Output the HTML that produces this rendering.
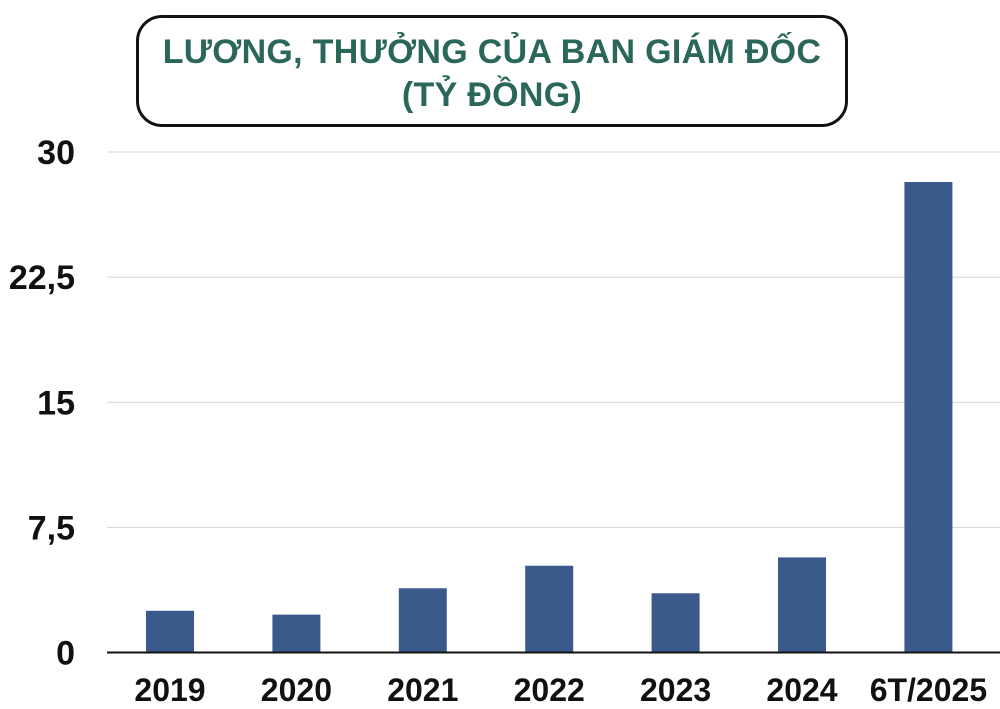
<!DOCTYPE html>
<html><head><meta charset="utf-8">
<style>
html,body{margin:0;padding:0;background:#fff;}
body{width:1000px;height:709px;position:relative;overflow:hidden;font-family:"Liberation Sans",sans-serif;}
#title-box{position:absolute;left:136px;top:15px;width:706px;height:106px;border:3px solid #111;border-radius:26px;box-sizing:content-box;text-align:center;color:#2a6659;font-weight:bold;font-size:34px;line-height:43px;}
#title-box div{margin-top:13px;letter-spacing:0.3px;}
</style></head>
<body>
<div id="title-box"><div>LƯƠNG, THƯỞNG CỦA BAN GIÁM ĐỐC<br>(TỶ ĐỒNG)</div></div>
<svg id="chart" width="1000" height="709" style="position:absolute;left:0;top:0"></svg>
<script>
const categories=["2019","2020","2021","2022","2023","2024","6T/2025"];
const values=[2.5,2.27,3.85,5.2,3.55,5.7,28.2];
const tickValues=[0,7.5,15,22.5,30];
const tickLabels=["0","7,5","15","22,5","30"];
const NS="http://www.w3.org/2000/svg";
const svg=document.getElementById("chart");
const y0=652.5,y1=152,yMax=30;
const yScale=v=>y0-(v/yMax)*(y0-y1);
const xLeft=107,band=126.4,firstCenter=170;
const xScale=i=>firstCenter+i*band;
const barW=48;
function mk(t,a){const e=document.createElementNS(NS,t);for(const k in a)e.setAttribute(k,a[k]);svg.appendChild(e);return e;}
tickValues.forEach((v,i)=>{
  const y=yScale(v);
  if(v!==0){const g=mk("line",{x1:xLeft,x2:1000,y1:y,y2:y,stroke:"#d4d4d4","stroke-width":1});
  
  }
  const t=mk("text",{x:75,y:y+12,"text-anchor":"end","font-size":34,"font-weight":"bold",fill:"#111","font-family":"Liberation Sans, sans-serif"});
  t.textContent=tickLabels[i];
  
  
});
values.forEach((v,i)=>{
  const cx=xScale(i);
  const r=mk("rect",{x:cx-barW/2,y:yScale(v),width:barW,height:y0-yScale(v),fill:"#3a5a8c"});
  
  
  const t=mk("text",{x:cx,y:701,"text-anchor":"middle","font-size":32,"font-weight":"bold",fill:"#111","font-family":"Liberation Sans, sans-serif"});
  t.textContent=categories[i];
  
  
});
const ax=mk("line",{x1:xLeft,x2:1000,y1:y0,y2:y0,stroke:"#111","stroke-width":2});


</script>
</body></html>
